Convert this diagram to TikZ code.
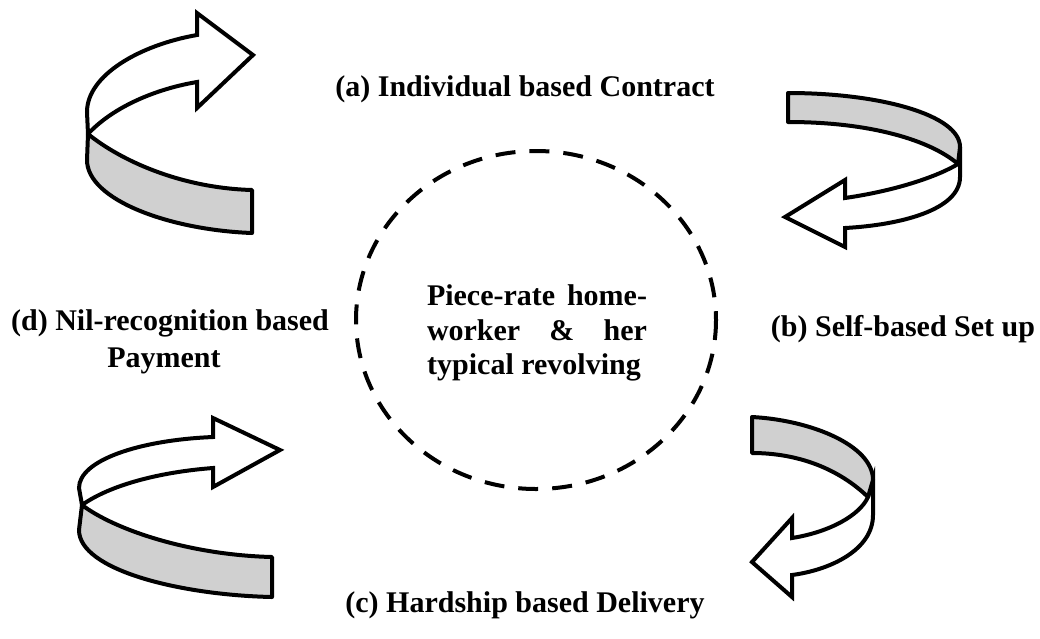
\documentclass[tikz,border=0pt]{standalone}
\usepackage{fontspec}
\setmainfont{Liberation Serif}
\definecolor{bandgray}{RGB}{208,208,208}
\begin{document}
\begin{tikzpicture}[x=1pt,y=-1pt,
  rib/.style={draw=black,line width=4pt,fill=white,line join=miter},
  band/.style={draw=black,line width=4pt,fill=bandgray,line join=round},
  lbl/.style={font=\bfseries\fontsize{30}{34}\selectfont,inner sep=0pt,anchor=base}]
\useasboundingbox (0,0) rectangle (1040,638);
% central dashed circle
\draw[line width=4pt,dash pattern=on 20pt off 14pt] (536,320) ellipse [x radius=180, y radius=169];
\node[lbl,anchor=base] (c1) at (537,305) {\makebox[220pt][s]{Piece-rate home-}};
\node[lbl,anchor=base] (c2) at (537,340) {\makebox[220pt][s]{worker \& her}};
\node[lbl,anchor=base west] (c3) at (427,374) {typical revolving};
% labels
\node[lbl] (a) at (525,96) {(a) Individual based Contract};
\node[lbl] (b) at (903,336) {(b) Self-based Set up};
\node[lbl] (d1) at (170,330) {(d) Nil-recognition based};
\node[lbl] (d2) at (164,367) {Payment};
\node[lbl] (c) at (525,612) {(c) Hardship based Delivery};
% top-left arrow
\draw[rib] (87,112) .. controls (87,75) and (140,45) .. (197,35) -- (197,13) -- (253,55) -- (197,108) -- (197,82) .. controls (150,90) and (110,110) .. (88,134) -- cycle;
\draw[band] (88,134) .. controls (120,160) and (180,188) .. (252,190) -- (252,233) .. controls (170,230) and (87,200) .. (87,160) -- cycle;
% top-right arrow
\draw[rib] (960,147) -- (960,177) .. controls (960,210) and (900,225) .. (845,228) -- (845,247) -- (785,217) -- (845,180) -- (845,198) .. controls (900,190) and (940,175) .. (958,164) -- cycle;
\draw[band] (788,93) .. controls (880,93) and (960,115) .. (960,147) -- (958,164) .. controls (930,140) and (870,122) .. (788,122) -- cycle;
% bottom-right arrow
\draw[rib] (873,480) -- (873,515) .. controls (873,550) and (830,570) .. (792,575) -- (792,597) -- (752,562) -- (792,518) -- (792,538) .. controls (830,532) and (860,515) .. (868,497) -- cycle;
\draw[band] (752,417) .. controls (810,420) and (873,445) .. (873,480) -- (868,497) .. controls (840,470) and (800,453) .. (752,453) -- cycle;
% bottom-left arrow
\draw[rib] (79,488) .. controls (79,460) and (140,440) .. (213,437) -- (213,418) -- (280,450) -- (213,487) -- (213,468) .. controls (160,472) and (110,485) .. (82,505) -- cycle;
\draw[band] (82,505) .. controls (115,530) and (190,555) .. (272,557) -- (272,597) .. controls (180,595) and (79,570) .. (79,530) -- cycle;
\end{tikzpicture}
\end{document}
